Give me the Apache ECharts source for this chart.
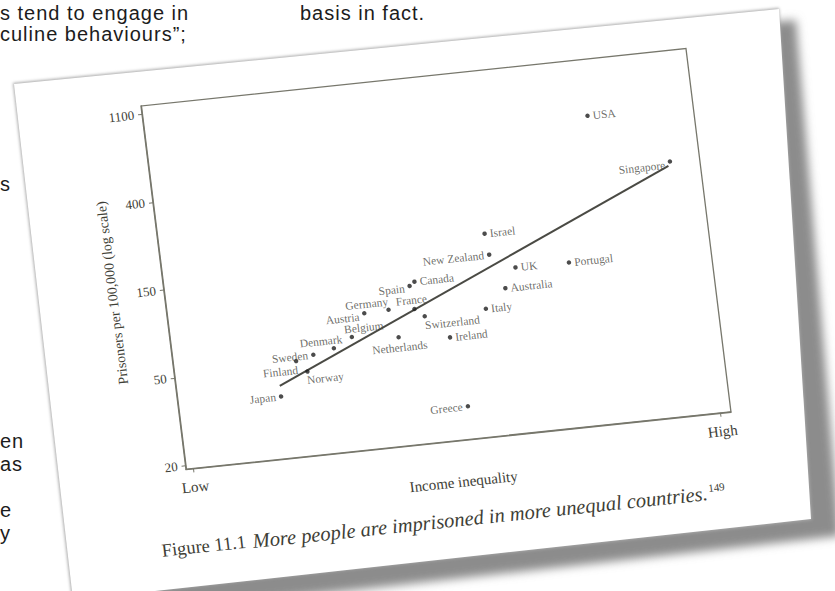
<!DOCTYPE html>
<html>
<head>
<meta charset="utf-8">
<script src="https://cdn.jsdelivr.net/npm/echarts@6/dist/echarts.min.js"></script>
<style>
  html, body { margin: 0; padding: 0; background: #ffffff; width: 835px; height: 591px; overflow: hidden; position: relative; }
  .frag { position: absolute; font-family: "Liberation Sans", Arial, sans-serif; font-size: 20px; line-height: 20px; letter-spacing: 1px; color: #1c1c1c; white-space: nowrap; }
  #page { position: absolute; left: 0; top: 0; }
  #chart { position: absolute; left: 0; top: 0; width: 720px; height: 560px; transform-origin: 0 0;
           transform: matrix(0.9945, -0.1049, 0.1229, 0.9924, 44.1, 55.9); }
</style>
</head>
<body>
<div class="frag" style="left:0px; top:3px;">s tend to engage in</div>
<div class="frag" style="left:0px; top:24px;">culine behaviours”;</div>
<div class="frag" style="left:300px; top:3px;">basis in fact.</div>
<div class="frag" style="left:0px; top:174px;">s</div>
<div class="frag" style="left:0px; top:431px;">en</div>
<div class="frag" style="left:0px; top:454px;">as</div>
<div class="frag" style="left:0px; top:500px;">e</div>
<div class="frag" style="left:0px; top:523px;">y</div>

<svg id="page" width="835" height="591">
  <defs>
    <filter id="blur" x="-10%" y="-10%" width="120%" height="120%"><feGaussianBlur stdDeviation="5"/></filter>
    <filter id="blur2"><feGaussianBlur stdDeviation="1.5"/></filter>
  </defs>
  <polygon points="26,96 796,20 840,536 86,620" fill="#8c8c8c" filter="url(#blur)"/>
  <polygon points="13,83 779,8 812,520 72,600" fill="#a8a8a8" filter="url(#blur2)"/>
  <polygon points="14,84 779,9 811,519 73,600" fill="#ffffff"/>
</svg>

<div id="chart"></div>

<script>
// ---- data ----
const countries = ['Japan','Finland','Norway','Sweden','Denmark','Belgium','Austria','Germany','Netherlands','France','Switzerland','Spain','Canada','Ireland','Greece','Italy','Israel','New Zealand','Australia','UK','Portugal','USA','Singapore'];
const inequality = [3.45, 3.74, 3.89, 4.01, 4.33, 4.62, 4.85, 5.22, 5.32, 5.61, 5.75, 5.58, 5.66, 6.09, 6.23, 6.68, 6.80, 6.83, 7.01, 7.20, 8.01, 8.56, 9.71];
const prisoners  = [39, 57, 50, 60, 63, 70, 90, 91, 66, 89, 81, 116, 121, 62, 28, 82, 191, 150, 101, 126, 125, 636, 345];
const trendX = [3.45, 9.68];
const trendY = [44, 329];
const yTickValues = [20.1, 54.6, 148.4, 403.4, 1096.6];
const yTickLabels = ['20', '50', '150', '400', '1100'];
const xTickValues = [2, 10];
const xTickLabels = ['Low', 'High'];

// ---- label placement (style only) ----
const labelPlace = {
  'Japan': ['left', [0, 0]],
  'Finland': ['left', [6, 9]],
  'Norway': ['bottom', [17, -3]],
  'Sweden': ['left', [0, 0]],
  'Denmark': ['top', [-12, 3]],
  'Belgium': ['top', [13, 3]],
  'Austria': ['left', [0, 3]],
  'Germany': ['top', [-21, 3]],
  'Netherlands': ['bottom', [0, -1]],
  'France': ['top', [-2, 2]],
  'Switzerland': ['right', [-6, 9]],
  'Spain': ['left', [0, 2]],
  'Canada': ['right', [0, 0]],
  'Ireland': ['right', [0, 0]],
  'Greece': ['left', [0, 0]],
  'Italy': ['right', [0, 0]],
  'Israel': ['right', [0, 0]],
  'New Zealand': ['left', [0, 0]],
  'Australia': ['right', [0, 0]],
  'UK': ['right', [0, 0]],
  'Portugal': ['right', [0, 0]],
  'USA': ['right', [0, 0]],
  'Singapore': ['left', [0, 3]]
};

const serif = '"Liberation Serif", "DejaVu Serif", serif';
const ink = '#3e3e36';
const axisInk = '#77776c';

const points = countries.map((c, i) => ({
  name: c,
  value: [inequality[i], prisoners[i]],
  label: { position: labelPlace[c][0], offset: labelPlace[c][1] }
}));

function nearestIndex(arr, v, rel) {
  let best = -1, bd = Infinity;
  arr.forEach((t, i) => { const d = Math.abs((rel ? Math.log(t) - Math.log(v) : t - v)); if (d < bd) { bd = d; best = i; } });
  return bd < (rel ? 0.02 : 0.05) ? best : -1;
}

const chart = echarts.init(document.getElementById('chart'), null, { renderer: 'svg' });
chart.setOption({
  backgroundColor: 'transparent',
  animation: false,
  grid: { left: 90, top: 60, width: 548, height: 366, show: true, borderColor: axisInk, borderWidth: 1.3, backgroundColor: 'transparent' },
  xAxis: {
    type: 'value',
    min: 1.89, max: 10.16,
    name: 'Income inequality',
    nameLocation: 'middle',
    nameGap: 34,
    nameTextStyle: { fontFamily: serif, fontSize: 15, color: ink },
    axisLine: { show: true, lineStyle: { color: axisInk, width: 1.3 } },
    axisTick: { show: true, length: 4, customValues: xTickValues, lineStyle: { color: axisInk } },
    axisLabel: {
      customValues: xTickValues,
      margin: 11,
      fontFamily: serif, fontSize: 15, color: ink,
      formatter: v => { const i = nearestIndex(xTickValues, v, false); return i >= 0 ? xTickLabels[i] : ''; }
    },
    splitLine: { show: false }
  },
  yAxis: {
    type: 'log',
    logBase: Math.E,
    min: 19.26, max: 1206,
    name: 'Prisoners per 100,000 (log scale)',
    nameLocation: 'middle',
    nameGap: 30,
    nameTextStyle: { fontFamily: serif, fontSize: 14, color: ink },
    axisLine: { show: true, lineStyle: { color: axisInk, width: 1.3 } },
    axisTick: { show: true, length: 4, customValues: yTickValues, lineStyle: { color: axisInk } },
    axisLabel: {
      customValues: yTickValues,
      margin: 8,
      fontFamily: serif, fontSize: 13, color: ink,
      formatter: v => { const i = nearestIndex(yTickValues, v, true); return i >= 0 ? yTickLabels[i] : ''; }
    },
    splitLine: { show: false },
    minorTick: { show: false }
  },
  graphic: [{
    type: 'text',
    left: 56,
    top: 494,
    style: {
      text: '{fig|Figure 11.1}  {it|More people are imprisoned in more unequal countries.}{sup|149}',
      rich: {
        fig: { fontFamily: serif, fontSize: 18.5, fill: ink, fontStyle: 'normal' },
        it: { fontFamily: serif, fontSize: 20.5, fill: ink, fontStyle: 'italic' },
        sup: { fontFamily: serif, fontSize: 11, fill: ink, verticalAlign: 'top', padding: [0, 0, 10, 1] }
      }
    }
  }],
  series: [
    {
      type: 'line',
      data: [[trendX[0], trendY[0]], [trendX[1], trendY[1]]],
      symbol: 'none',
      lineStyle: { color: '#4a4a44', width: 2 },
      silent: true,
      z: 2
    },
    {
      type: 'scatter',
      data: points,
      symbol: 'circle',
      symbolSize: 4.5,
      itemStyle: { color: '#1f1f1f' },
      label: {
        show: true,
        formatter: p => p.name,
        distance: 3,
        fontFamily: serif,
        fontSize: 11.5,
        color: '#48483f'
      },
      z: 3
    }
  ]
});
</script>
</body>
</html>
